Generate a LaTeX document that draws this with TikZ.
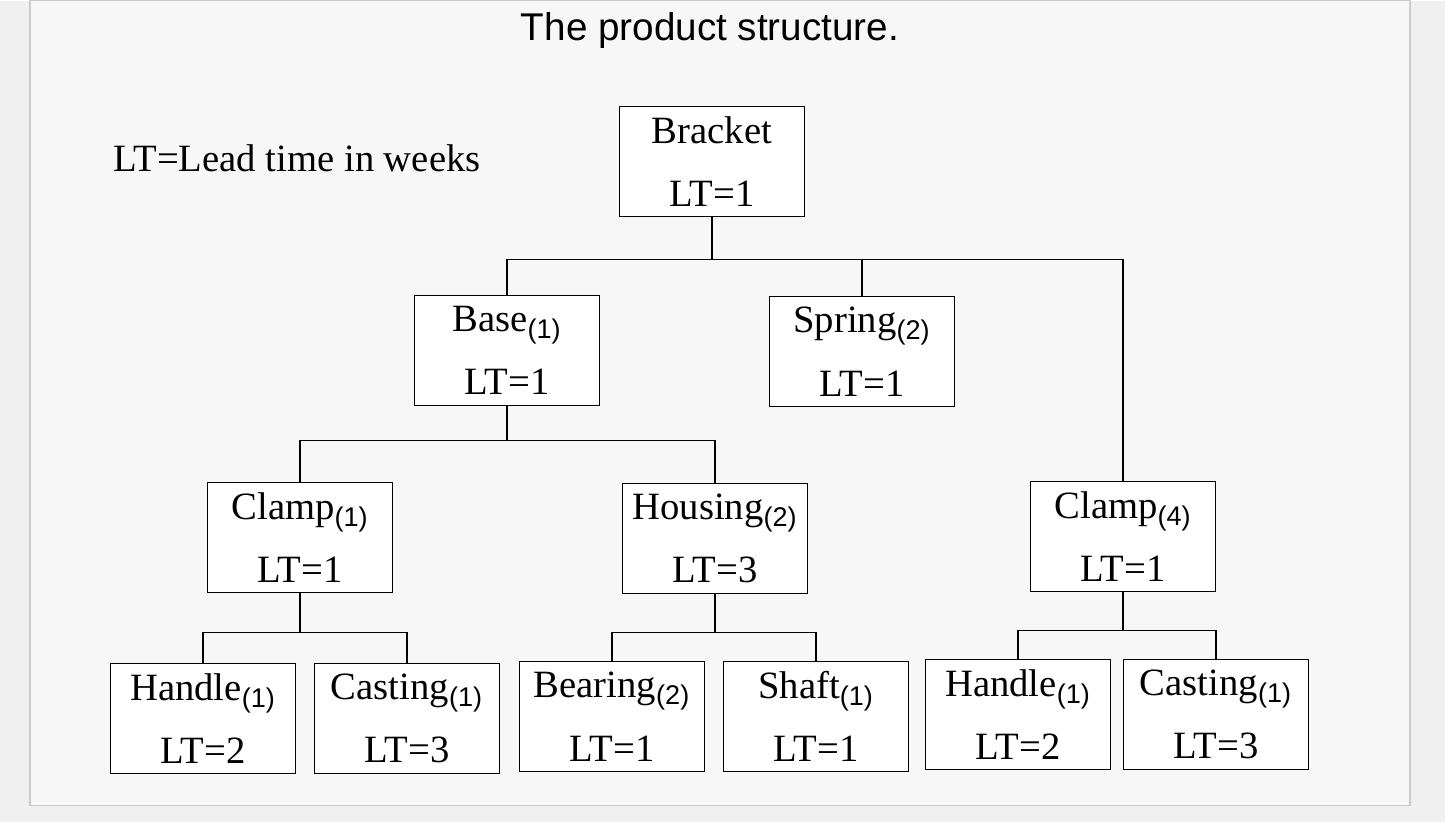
\documentclass[tikz,border=0pt]{standalone}
\usepackage{fontspec}
\setmainfont{Liberation Serif}
\newfontfamily\titlefont{Liberation Sans}
\usetikzlibrary{positioning}
\newcommand{\qty}[1]{\textsubscript{\titlefont(#1)}}
\tikzset{part/.style={draw, thick, fill=white, align=center, inner sep=0pt,
    minimum width=3.7cm, minimum height=2.2cm, font=\fontsize{22}{36}\selectfont}}
\begin{document}
\begin{tikzpicture}[x=0.02cm, y=-0.02cm]
    \fill[gray!12] (0,0) rectangle (1445,821);
    \draw[gray!40, thick, fill=gray!6] (30,0) rectangle (1410,805);
    \node[font=\titlefont\fontsize{22}{26}\selectfont] (title) at (710,30) {The product structure.};
    \node[font=\fontsize{22}{26}\selectfont] (legend) at (297,158) {LT=Lead time in weeks};

    \node[part] (bracket) at (712,161) {Bracket\\LT=1};
    \node[part] (base) at (507,350) {Base\qty{1}\\LT=1};
    \node[part] (spring) at (862,351) {Spring\qty{2}\\LT=1};
    \node[part] (clamp_a) at (300,537) {Clamp\qty{1}\\LT=1};
    \node[part] (housing) at (715,538) {Housing\qty{2}\\LT=3};
    \node[part] (clamp_b) at (1123,536) {Clamp\qty{4}\\LT=1};
    \node[part] (handle_a) at (203,718) {Handle\qty{1}\\LT=2};
    \node[part] (casting_a) at (407,718) {Casting\qty{1}\\LT=3};
    \node[part] (bearing) at (612,716) {Bearing\qty{2}\\LT=1};
    \node[part] (shaft) at (816,716) {Shaft\qty{1}\\LT=1};
    \node[part] (handle_b) at (1018,714) {Handle\qty{1}\\LT=2};
    \node[part] (casting_b) at (1216,714) {Casting\qty{1}\\LT=3};

    % junctions
    \coordinate (j_bracket) at (712,259);
    \coordinate (j_base) at (507,440);
    \coordinate (j_clamp_a) at (300,632);
    \coordinate (j_housing) at (715,632);
    \coordinate (j_clamp_b) at (1123,630);

    \draw[thick] (bracket.south) -- (j_bracket);
    \draw[thick] (base.north) |- (j_bracket) -| (clamp_b.north);
    \draw[thick] (spring.north) -- (spring.north |- j_bracket);
    \draw[thick] (base.south) -- (j_base);
    \draw[thick] (clamp_a.north) |- (j_base) -| (housing.north);
    \draw[thick] (clamp_a.south) -- (j_clamp_a);
    \draw[thick] (handle_a.north) |- (j_clamp_a) -| (casting_a.north);
    \draw[thick] (housing.south) -- (j_housing);
    \draw[thick] (bearing.north) |- (j_housing) -| (shaft.north);
    \draw[thick] (clamp_b.south) -- (j_clamp_b);
    \draw[thick] (handle_b.north) |- (j_clamp_b) -| (casting_b.north);
\end{tikzpicture}
\end{document}
